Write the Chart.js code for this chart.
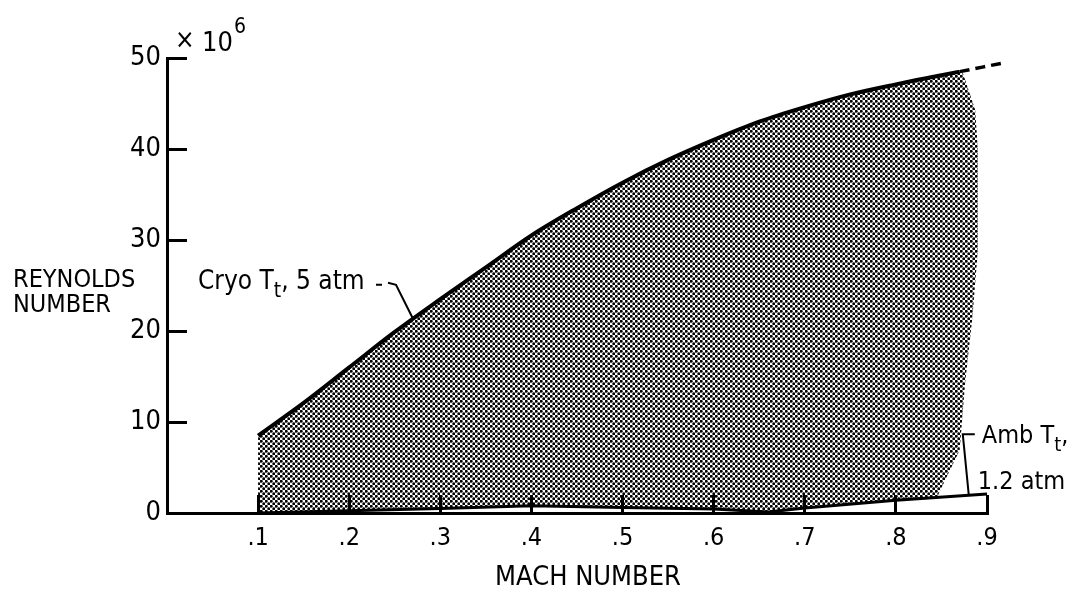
<!DOCTYPE html>
<html>
<head>
<meta charset="utf-8">
<script src="https://cdn.jsdelivr.net/npm/chart.js@4"></script>
<style>
  html, body { margin: 0; padding: 0; background: #fff; }
  #wrap { width: 1077px; height: 594px; position: relative; }
</style>
</head>
<body>
<div id="wrap"><canvas id="reChart"></canvas></div>
<script>
// Cryo T_t, 5 atm upper boundary (Mach number, Reynolds number x 10^6)
const cryoMach = [0.1, 0.15, 0.2, 0.25, 0.3, 0.35, 0.4, 0.45, 0.5, 0.55, 0.6, 0.65, 0.7, 0.75, 0.8, 0.85, 0.87];
const cryoRe   = [8.5, 12.1, 16.0, 19.9, 23.5, 27.0, 30.5, 33.5, 36.3, 38.8, 41.0, 43.0, 44.6, 46.0, 47.1, 48.1, 48.5];
// dashed extension of the cryo curve
const cryoDashMach = [0.87, 0.895, 0.92];
const cryoDashRe   = [48.5, 49.0, 49.5];
// Amb T_t, 1.2 atm lower boundary
const ambMach = [0.1, 0.2, 0.3, 0.4, 0.5, 0.6, 0.66, 0.7, 0.8, 0.9];
const ambRe   = [0.0, 0.25, 0.5, 0.8, 0.6, 0.45, 0.1, 0.55, 1.4, 2.1];
// right edge of the shaded envelope, top to bottom
const edgeMach = [0.873, 0.887, 0.89, 0.89, 0.884, 0.876, 0.87, 0.856, 0.845];
const edgeRe   = [48.5, 44.3, 39.9, 28.9, 21.5, 14.3, 6.9, 4.0, 1.7];

const xTickLabels = ['', '.1', '.2', '.3', '.4', '.5', '.6', '.7', '.8', '.9'];
const yTickLabels = ['0', '10', '20', '30', '40', '50'];

// where the two label leaders touch their curves
const cryoLabelMach = 0.27;
const ambLabelMach = 0.88;

const FONT = "'Liberation Sans Narrow', 'DejaVu Sans Condensed', 'Roboto Condensed', 'Liberation Sans', sans-serif";

const pts = (xs, ys) => xs.map((x, i) => ({ x: x, y: ys[i] }));

function interp(xs, ys, v) {
  for (let i = 0; i < xs.length - 1; i++) {
    if (v >= xs[i] && v <= xs[i + 1]) {
      const t = (v - xs[i]) / (xs[i + 1] - xs[i]);
      return ys[i] + t * (ys[i + 1] - ys[i]);
    }
  }
  return ys[ys.length - 1];
}

function makeDots() {
  const c = document.createElement('canvas');
  c.width = 5;
  c.height = 5;
  const g = c.getContext('2d');
  g.fillStyle = '#000';
  [[1.25, 1.25], [3.75, 3.75]].forEach(([x, y]) => {
    g.beginPath();
    g.arc(x, y, 1.45, 0, Math.PI * 2);
    g.fill();
  });
  return g.createPattern(c, 'repeat');
}

// closed outline: cryo curve, right edge, amb line back to the start
const envelope = pts(cryoMach, cryoRe)
  .concat(pts(edgeMach, edgeRe))
  .concat(pts(ambMach, ambRe).filter(p => p.x < edgeMach[edgeMach.length - 1]).reverse());

function rich(ctx, x, y, parts, size) {
  let cx = x;
  parts.forEach(([t, sub]) => {
    const s = sub ? Math.round(size * 0.8) : size;
    ctx.font = s + 'px ' + FONT;
    ctx.fillText(t, cx, sub ? y + size * 0.32 : y);
    cx += ctx.measureText(t).width;
  });
}

const labelsPlugin = {
  id: 'labels',
  afterDatasetsDraw(chart) {
    const ctx = chart.ctx;
    const xs = chart.scales.x, ys = chart.scales.y;
    ctx.save();
    ctx.fillStyle = '#000';
    ctx.strokeStyle = '#000';
    ctx.textAlign = 'left';
    ctx.textBaseline = 'alphabetic';

    // y axis title, horizontal at the left
    ctx.font = '25px ' + FONT;
    ctx.fillText('REYNOLDS', 13, 287);
    ctx.fillText('NUMBER', 13, 312);

    // x axis title
    ctx.textAlign = 'center';
    ctx.font = '27px ' + FONT;
    ctx.fillText('MACH NUMBER', 588, 585);
    ctx.textAlign = 'left';

    // multiplier
    ctx.font = '26px ' + FONT;
    ctx.fillText('\u00d7', 175, 48);
    ctx.font = '27px ' + FONT;
    ctx.fillText('10', 202, 51);
    const w10 = ctx.measureText('10').width;
    ctx.font = '21px ' + FONT;
    ctx.fillText('6', 202 + w10 + 1, 33);

    // Cryo label and leader
    const cx = xs.getPixelForValue(cryoLabelMach);
    const cy = ys.getPixelForValue(interp(cryoMach, cryoRe, cryoLabelMach));
    rich(ctx, cx - 215, cy - 30, [['Cryo T', false], ['t', true], [', 5 atm', false]], 26);
    ctx.lineWidth = 2;
    ctx.beginPath();
    ctx.moveTo(cx - 37, cy - 34);
    ctx.lineTo(cx - 31, cy - 34);
    ctx.moveTo(cx - 25, cy - 36);
    ctx.lineTo(cx - 17, cy - 34);
    ctx.lineTo(cx, cy);
    ctx.stroke();

    // Amb label and leader
    const ax = xs.getPixelForValue(ambLabelMach);
    const ay = ys.getPixelForValue(interp(ambMach, ambRe, ambLabelMach));
    rich(ctx, ax + 13, ay - 52, [['Amb T', false], ['t', true], [',', false]], 25);
    ctx.font = '25px ' + FONT;
    ctx.fillText('1.2 atm', ax + 9, ay - 6);
    ctx.beginPath();
    ctx.moveTo(ax, ay);
    ctx.lineTo(ax - 6, ay - 61);
    ctx.lineTo(ax + 6, ay - 61);
    ctx.stroke();
    ctx.restore();
  }
};

new Chart(document.getElementById('reChart'), {
  type: 'line',
  data: {
    datasets: [
      {
        data: envelope,
        fill: 'shape',
        backgroundColor: makeDots(),
        borderColor: 'rgba(0,0,0,0)',
        borderWidth: 0,
        pointRadius: 0,
        tension: 0,
        order: 3
      },
      {
        data: pts(cryoMach, cryoRe),
        borderColor: '#000',
        borderWidth: 4,
        pointRadius: 0,
        fill: false,
        cubicInterpolationMode: 'monotone',
        order: 1
      },
      {
        data: pts(cryoDashMach, cryoDashRe),
        borderColor: '#000',
        borderWidth: 3.5,
        borderDash: [10, 6],
        pointRadius: 0,
        fill: false,
        clip: false,
        order: 1
      },
      {
        data: pts(ambMach, ambRe),
        borderColor: '#000',
        borderWidth: 3,
        pointRadius: 0,
        fill: false,
        clip: false,
        order: 1
      }
    ]
  },
  options: {
    responsive: true,
    maintainAspectRatio: false,
    animation: false,
    layout: { padding: { top: 58, right: 90, left: 0, bottom: 0 } },
    plugins: { legend: { display: false }, tooltip: { enabled: false } },
    scales: {
      x: {
        type: 'linear',
        min: 0,
        max: 0.9,
        afterFit: s => { s.height = 81; },
        border: { display: true, color: '#000', width: 3 },
        grid: { drawOnChartArea: false, color: '#000', lineWidth: 3, tickLength: -18 },
        ticks: {
          stepSize: 0.1,
          padding: 28,
          color: '#000',
          font: { family: FONT, size: 25 },
          callback: (v, i) => xTickLabels[i]
        }
      },
      y: {
        min: 0,
        max: 50,
        afterFit: s => { s.width = 167; },
        border: { display: true, color: '#000', width: 3 },
        grid: { drawOnChartArea: false, color: '#000', lineWidth: 3, tickLength: -20 },
        ticks: {
          stepSize: 10,
          padding: 26,
          color: '#000',
          font: { family: FONT, size: 27 },
          callback: (v, i) => yTickLabels[i]
        }
      }
    }
  },
  plugins: [labelsPlugin]
});
</script>
</body>
</html>
